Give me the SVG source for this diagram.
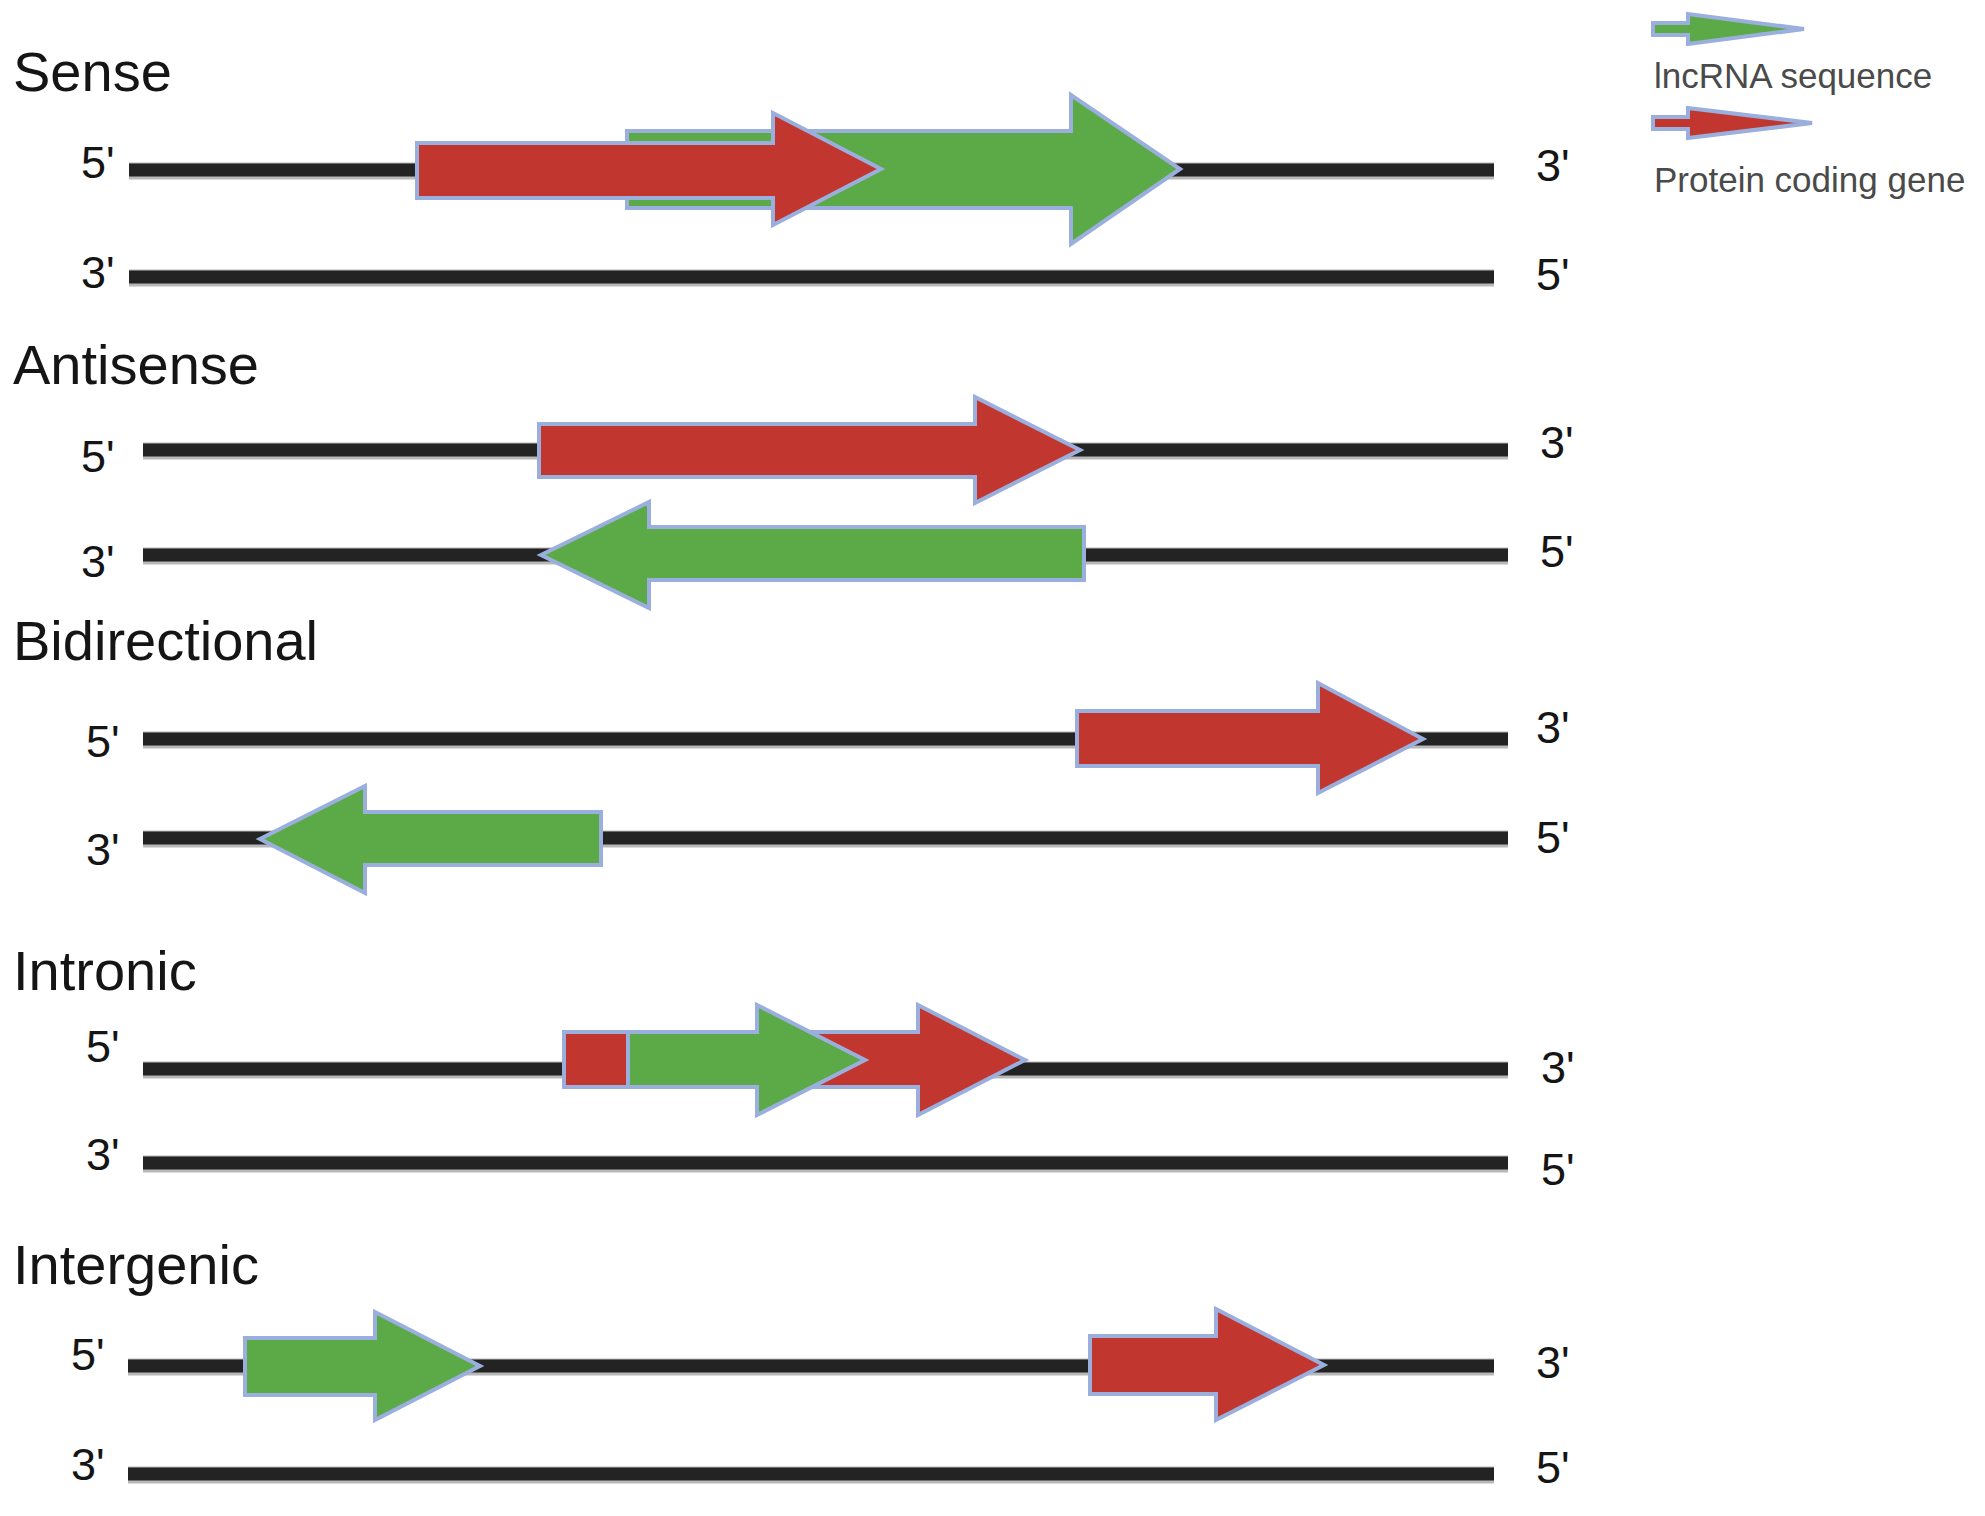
<svg xmlns="http://www.w3.org/2000/svg" width="1985" height="1516" viewBox="0 0 1985 1516">
<style>
.bg{fill:#ffffff}
.title{font-family:"Liberation Sans",Arial,sans-serif;font-size:56px;fill:#151515}
.end{font-family:"Liberation Sans",Arial,sans-serif;font-size:45px;fill:#151515}
.leg{font-family:"Liberation Sans",Arial,sans-serif;font-size:35px;fill:#4a4a4a}
.halo{stroke:#b8b8b8;stroke-width:17;fill:none}
.strand{stroke:#232323;stroke-width:13;fill:none}
.red{fill:#C1372F;stroke:#9AAFDD;stroke-width:4;stroke-linejoin:miter}
.green{fill:#5BAA47;stroke:#9AAFDD;stroke-width:4;stroke-linejoin:miter}
</style>
<rect class="bg" x="0" y="0" width="1985" height="1516"/>

<g id="strands">
  <line class="halo" x1="129" y1="171" x2="1494" y2="171"/>
  <line class="strand" x1="129" y1="170" x2="1494" y2="170"/>
  <line class="halo" x1="129" y1="278" x2="1494" y2="278"/>
  <line class="strand" x1="129" y1="277" x2="1494" y2="277"/>
  <line class="halo" x1="143" y1="451" x2="1508" y2="451"/>
  <line class="strand" x1="143" y1="450" x2="1508" y2="450"/>
  <line class="halo" x1="143" y1="556" x2="1508" y2="556"/>
  <line class="strand" x1="143" y1="555" x2="1508" y2="555"/>
  <line class="halo" x1="143" y1="740" x2="1508" y2="740"/>
  <line class="strand" x1="143" y1="739" x2="1508" y2="739"/>
  <line class="halo" x1="143" y1="839" x2="1508" y2="839"/>
  <line class="strand" x1="143" y1="838" x2="1508" y2="838"/>
  <line class="halo" x1="143" y1="1070" x2="1508" y2="1070"/>
  <line class="strand" x1="143" y1="1069" x2="1508" y2="1069"/>
  <line class="halo" x1="143" y1="1164" x2="1508" y2="1164"/>
  <line class="strand" x1="143" y1="1163" x2="1508" y2="1163"/>
  <line class="halo" x1="128" y1="1367" x2="1494" y2="1367"/>
  <line class="strand" x1="128" y1="1366" x2="1494" y2="1366"/>
  <line class="halo" x1="128" y1="1475" x2="1494" y2="1475"/>
  <line class="strand" x1="128" y1="1474" x2="1494" y2="1474"/>
</g>

<g id="sense">
  <text class="title" x="13" y="91">Sense</text>
  <text class="end" x="81" y="178">5'</text>
  <text class="end" x="81" y="288">3'</text>
  <text class="end" x="1536" y="181">3'</text>
  <text class="end" x="1536" y="290">5'</text>
  <polygon id="sense-lnc" class="green" points="627,131 1071,131 1071,95 1180,169 1071,244 1071,208 627,208"/>
  <polygon id="sense-gene" class="red" points="417,143 773,143 773,113 881,169 773,225 773,198 417,198"/>
</g>

<g id="antisense">
  <text class="title" x="13" y="384">Antisense</text>
  <text class="end" x="81" y="472">5'</text>
  <text class="end" x="81" y="577">3'</text>
  <text class="end" x="1540" y="458">3'</text>
  <text class="end" x="1540" y="567">5'</text>
  <polygon id="antisense-gene" class="red" points="539,424 975,424 975,397 1080,450 975,503 975,477 539,477"/>
  <polygon id="antisense-lnc" class="green" points="541,555 649,502 649,527 1084,527 1084,580 649,580 649,608"/>
</g>

<g id="bidirectional">
  <text class="title" x="13" y="660">Bidirectional</text>
  <text class="end" x="86" y="757">5'</text>
  <text class="end" x="86" y="865">3'</text>
  <text class="end" x="1536" y="743">3'</text>
  <text class="end" x="1536" y="853">5'</text>
  <polygon id="bidirectional-gene" class="red" points="1077,711 1318,711 1318,683 1423,739 1318,793 1318,766 1077,766"/>
  <polygon id="bidirectional-lnc" class="green" points="260,839 365,786 365,812 601,812 601,865 365,865 365,893"/>
</g>

<g id="intronic">
  <text class="title" x="13" y="990">Intronic</text>
  <text class="end" x="86" y="1062">5'</text>
  <text class="end" x="86" y="1170">3'</text>
  <text class="end" x="1541" y="1083">3'</text>
  <text class="end" x="1541" y="1185">5'</text>
  <polygon id="intronic-gene" class="red" points="564,1032 918,1032 918,1005 1025,1060 918,1115 918,1087 564,1087"/>
  <polygon id="intronic-lnc" class="green" points="628,1032 757,1032 757,1005 865,1060 757,1115 757,1087 628,1087"/>
</g>

<g id="intergenic">
  <text class="title" x="13" y="1284">Intergenic</text>
  <text class="end" x="71" y="1370">5'</text>
  <text class="end" x="71" y="1480">3'</text>
  <text class="end" x="1536" y="1378">3'</text>
  <text class="end" x="1536" y="1483">5'</text>
  <polygon id="intergenic-lnc" class="green" points="245,1338 375,1338 375,1312 480,1366 375,1420 375,1395 245,1395"/>
  <polygon id="intergenic-gene" class="red" points="1090,1336 1216,1336 1216,1309 1324,1365 1216,1420 1216,1394 1090,1394"/>
</g>

<g id="legend">
  <polygon id="legend-lnc" class="green" stroke-width="3" points="1653,23 1688,23 1688,14 1804,29 1688,44 1688,35 1653,35"/>
  <text class="leg" x="1654" y="88">lncRNA sequence</text>
  <polygon id="legend-gene" class="red" stroke-width="3" points="1653,117 1688,117 1688,108 1812,123 1688,138 1688,129 1653,129"/>
  <text class="leg" x="1654" y="192">Protein coding gene</text>
</g>
</svg>
